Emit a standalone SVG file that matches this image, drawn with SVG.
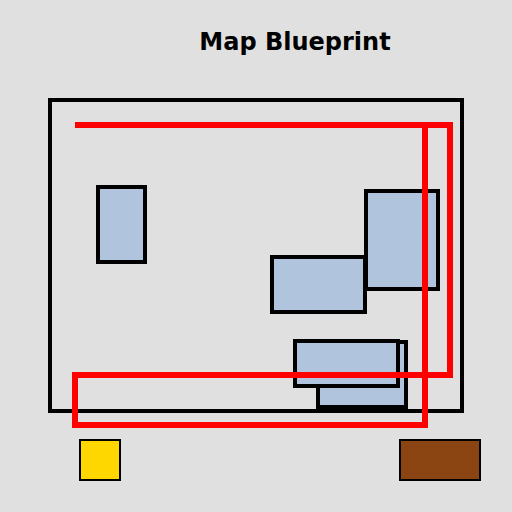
<svg xmlns="http://www.w3.org/2000/svg" width="512" height="512" viewBox="0 0 512 512">
<style>
.bld{fill:#B0C4DE;stroke:#000;stroke-width:4}
.swatch{stroke:#000;stroke-width:2}
.route{fill:none;stroke:#FF0000;stroke-width:6;stroke-linejoin:miter}
.title{font-family:"DejaVu Sans",sans-serif;font-weight:bold;font-size:24px;fill:#000}
</style>
<rect x="0" y="0" width="512" height="512" fill="#E0E0E0"/>
<text class="title" x="295" y="50" text-anchor="middle">Map Blueprint</text>
<g id="boundary"><rect x="50" y="100" width="412" height="311" fill="none" stroke="#000" stroke-width="4"/></g>
<g id="building1"><rect class="bld" x="98" y="187" width="47" height="75"/></g>
<g id="building2"><rect class="bld" x="366" y="191" width="72" height="98"/></g>
<g id="building3"><rect class="bld" x="272" y="257" width="93" height="55"/></g>
<g id="building4"><rect class="bld" x="318" y="342" width="88" height="65"/></g>
<g id="building5"><rect class="bld" x="295" y="341" width="103" height="45"/></g>
<g id="connectors">
<path class="route" d="M75,125 L450,125 L450,375 L75,375 L75,425 L425,425 L425,125"/>
</g>
<g id="legend-yellow"><rect class="swatch" x="80" y="440" width="40" height="40" fill="#FFD700"/></g>
<g id="legend-brown"><rect class="swatch" x="400" y="440" width="80" height="40" fill="#8B4513"/></g>
</svg>
